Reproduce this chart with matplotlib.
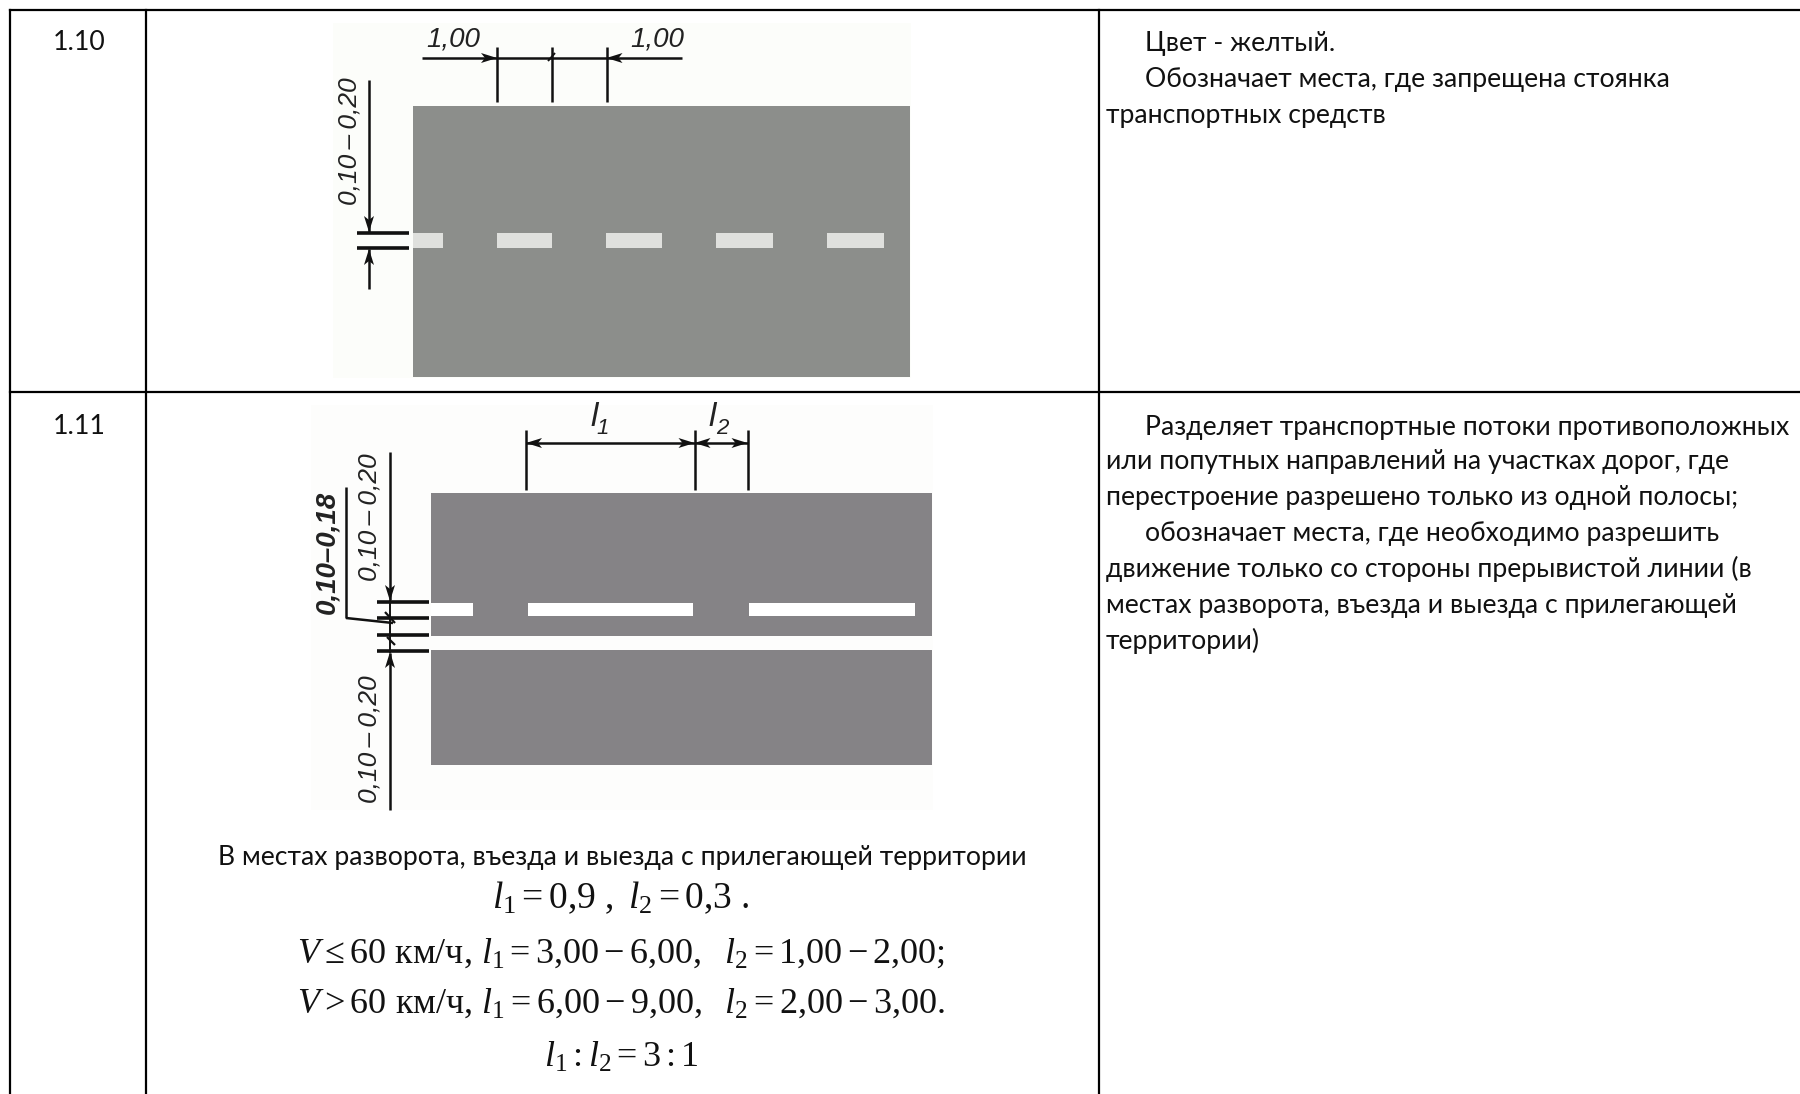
import matplotlib
matplotlib.use("Agg")
import matplotlib.pyplot as plt
from matplotlib.patches import Rectangle, Polygon

plt.rcParams["mathtext.fontset"] = "custom"
plt.rcParams["mathtext.rm"] = "Liberation Serif"
plt.rcParams["mathtext.it"] = "Liberation Serif:italic"
plt.rcParams["mathtext.bf"] = "Liberation Serif:bold"

W, H = 1800, 1094
BODY = ["Lato", "Open Sans"]
BODY_SIZE = 19.2
DIM = ["Liberation Sans", "DejaVu Sans"]

row_labels = ["1.10", "1.11"]
desc_110 = ["Цвет - желтый.", "Обозначает места, где запрещена стоянка", "транспортных средств"]
desc_111 = ["Разделяет транспортные потоки противоположных",
            "или попутных направлений на участках дорог, где",
            "перестроение разрешено только из одной полосы;",
            "обозначает места, где необходимо разрешить",
            "движение только со стороны прерывистой линии (в",
            "местах разворота, въезда и выезда с прилегающей",
            "территории)"]
caption = "В местах разворота, въезда и выезда с прилегающей территории"
formulas = [r"$l_1=0{,}9\ ,\ l_2=0{,}3\ .$",
            r"$V\leq 60$ км/ч, $l_1=3{,}00-6{,}00,\ \ l_2=1{,}00-2{,}00;$",
            r"$V>60$ км/ч, $l_1=6{,}00-9{,}00,\ \ l_2=2{,}00-3{,}00.$",
            r"$l_1:l_2=3:1$"]
formula_sizes = [27, 26, 26, 26]

fig = plt.figure(figsize=(W / 100, H / 100), dpi=100, facecolor="white")
ax = fig.add_axes([0, 0, 1, 1])
ax.set_xlim(0, W)
ax.set_ylim(H, 0)
ax.axis("off")

# table rules
for y in (10, 392):
    ax.plot([10, W], [y, y], color="black", lw=1.6, solid_capstyle="projecting")
for x in (10, 146, 1099):
    ax.plot([x, x], [10, H], color="black", lw=1.6, solid_capstyle="projecting")


def rect(x0, y0, x1, y1, c):
    ax.add_patch(Rectangle((x0, y0), x1 - x0, y1 - y0, fc=c, ec="none"))


def line(x0, y0, x1, y1, lw=1.8):
    ax.plot([x0, x1], [y0, y1], color="#111111", lw=lw, solid_capstyle="butt")


def head(x, y, dx, dy, L=16, w=5):
    """filled arrow head with tip at (x, y) pointing along (dx, dy)"""
    ax.add_patch(Polygon([(x, y), (x - dx * L - dy * w, y - dy * L - dx * w),
                          (x - dx * L * 0.75, y - dy * L * 0.75),
                          (x - dx * L + dy * w, y - dy * L + dx * w)],
                         fc="#111111", ec="none"))


def dim(x, y, s, size=19, **kw):
    ax.text(x, y, s, family=DIM, style="italic", color="#222222",
            ha="center", va="center", fontsize=size, **kw)


RANGE = "0,10\u2009–\u20090,20"

# ---- diagram 1.10
rect(333, 23, 911, 378, "#fcfdfa")
rect(413, 106, 910, 377, "#8c8e8b")
for a, b in [(413, 443), (497, 552), (606, 662), (716, 773), (827, 884)]:
    rect(a, 233, b, 248, "#dfe0dd")
for x in (497, 551.5, 606.5):
    line(x, 47, x, 102)
line(422, 58, 682, 58)
head(497, 58, 1, 0)
head(606.5, 58, -1, 0)
line(548, 61, 555, 53, 1.4)
line(369, 80, 369, 232)
line(369, 249, 369, 289)
head(369, 232, 0, 1)
head(369, 249, 0, -1)
line(357, 233, 409, 233, 2.6)
line(357, 248, 409, 248, 2.6)
dim(453, 39, "1,00", size=20)
dim(657, 39, "1,00", size=20)
dim(350, 141, RANGE, rotation=90)

# ---- diagram 1.11
rect(311, 405, 933, 810, "#fdfdfc")
rect(431, 493, 932, 636, "#858386")
rect(431, 650, 932, 765, "#858386")
for a, b in [(431, 473), (528, 693), (749, 915)]:
    rect(a, 603, b, 616, "white")
for x in (526, 694.5, 747.5):
    line(x, 430, x, 490)
line(526, 443, 747.5, 443)
head(526, 443, -1, 0)
head(694.5, 443, 1, 0)
head(694.5, 443, -1, 0)
head(747.5, 443, 1, 0)
line(390, 452, 390, 600)
line(390, 653, 390, 810)
line(390, 600, 390, 653, 1.4)
head(390, 601, 0, 1)
head(390, 652, 0, -1)
for y in (602, 618, 635, 651):
    line(377, y, 429, y, 2.6)
line(385, 612, 395, 623, 1.6)
line(387, 637, 395, 645, 1.6)
line(346, 487, 346, 618)
line(346, 618, 393, 623)
dim(327, 552, "0,10–0,18", size=20, rotation=90, weight="bold")
dim(369, 517, RANGE, rotation=90)
dim(369, 739, RANGE, rotation=90)
dim(594, 418, "l", size=24)
dim(603, 429, "1", size=16)
dim(712, 418, "l", size=24)
dim(722, 429, "2", size=16)

# ---- row labels
for s, y in zip(row_labels, (43, 426)):
    ax.text(53, y, s, family=BODY, fontsize=BODY_SIZE, ha="left", va="center", color="#111111")

# ---- descriptions
for s, x, y in zip(desc_110, (1145, 1145, 1106), (43, 79, 116)):
    ax.text(x, y, s, family=BODY, fontsize=BODY_SIZE, ha="left", va="center", color="#111111")
for s, x, y in zip(desc_111, (1145, 1106, 1106, 1145, 1106, 1106, 1106),
                   (427, 462, 497, 534, 569, 605, 641)):
    ax.text(x, y, s, family=BODY, fontsize=BODY_SIZE, ha="left", va="center", color="#111111")

# ---- caption and formulas
ax.text(622, 858, caption, family=BODY, fontsize=BODY_SIZE, ha="center", va="center", color="#111111")
for s, y, fs in zip(formulas, (898, 954, 1004, 1058), formula_sizes):
    ax.text(621, y, s, family="Liberation Serif", fontsize=fs, ha="center", va="center", color="#111111")

fig.savefig("out.png", dpi=100)
